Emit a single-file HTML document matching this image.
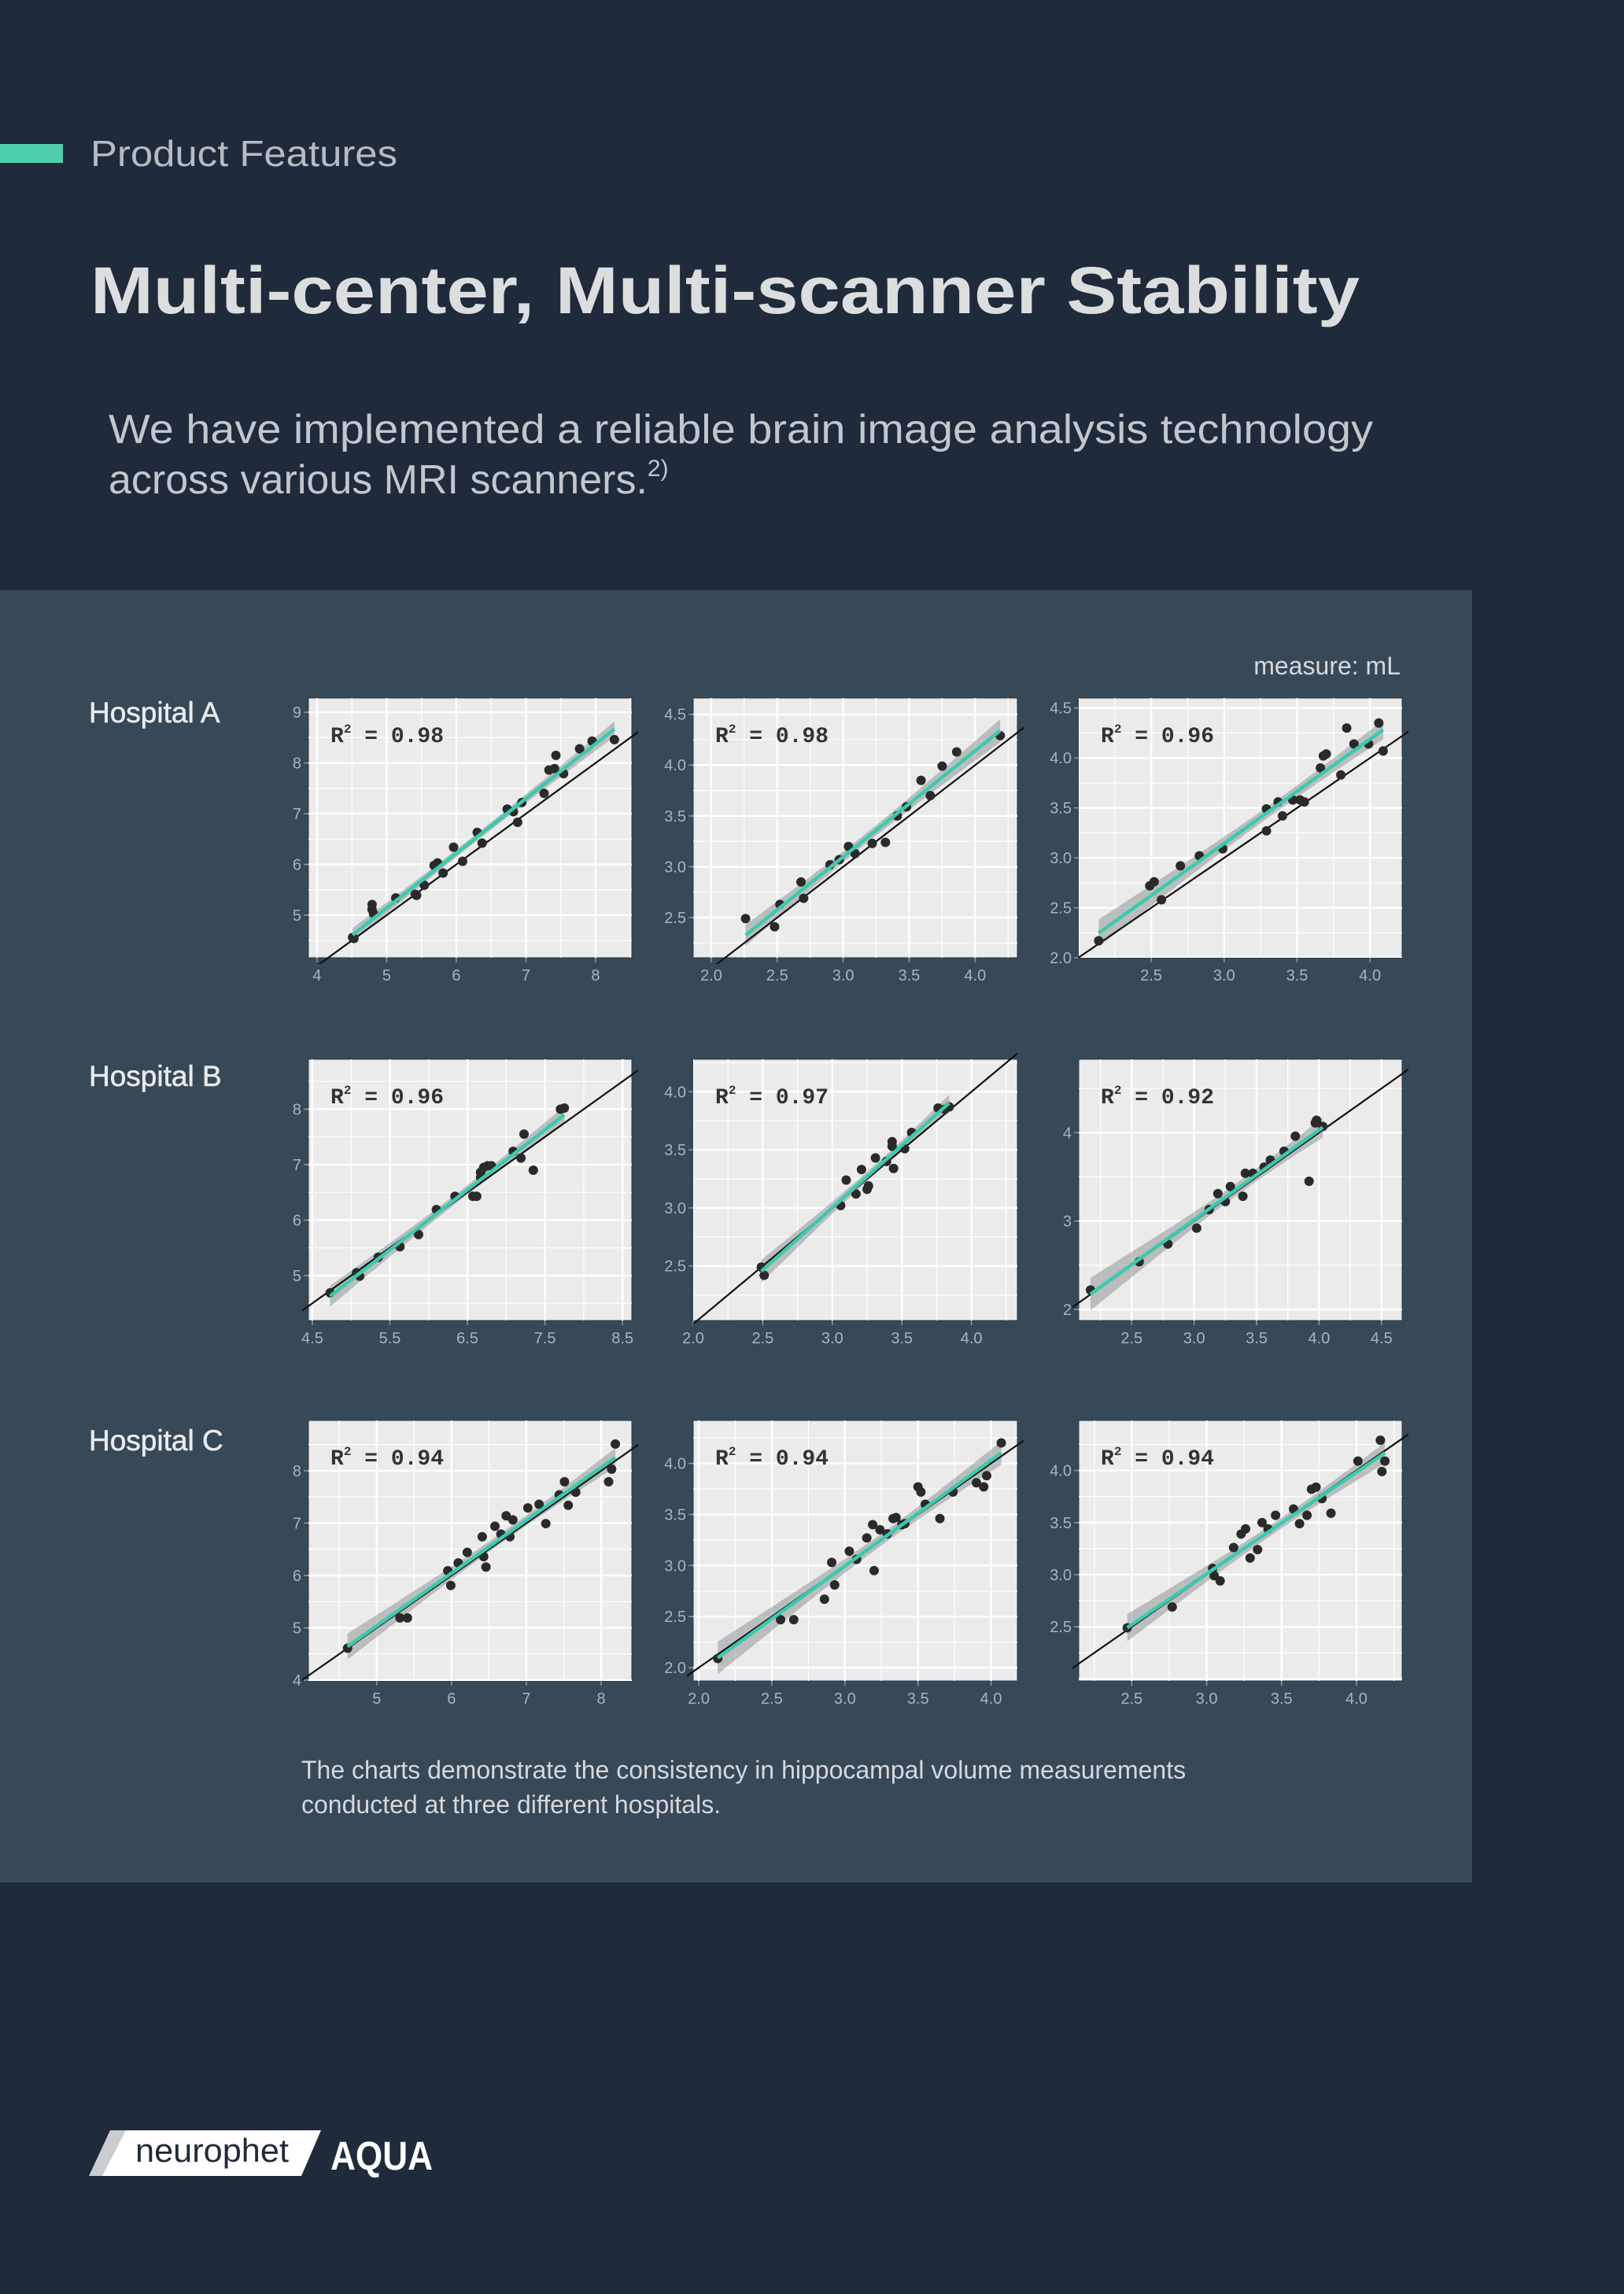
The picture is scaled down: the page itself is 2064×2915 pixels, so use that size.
<!DOCTYPE html>
<html><head><meta charset="utf-8"><style>
html,body{margin:0;padding:0;background:#1f2a3a;}
svg{display:block;}
</style></head><body>
<svg id="page" xmlns="http://www.w3.org/2000/svg" width="2064" height="2915" viewBox="0 0 2064 2915" font-family="'Liberation Sans', sans-serif">
<rect x="0" y="0" width="2064" height="2915" fill="#1f2a3a"/>
<rect x="0" y="183" width="80" height="24" fill="#4fcfad"/>
<text x="115" y="211" font-size="46" fill="#b7bcc2" textLength="390" lengthAdjust="spacingAndGlyphs">Product Features</text>
<text x="115" y="398" font-size="84" font-weight="bold" fill="#dcdddf" textLength="1613" lengthAdjust="spacingAndGlyphs">Multi-center, Multi-scanner Stability</text>
<text x="138" y="563" font-size="52" fill="#c3c7cc" textLength="1607" lengthAdjust="spacingAndGlyphs">We have implemented a reliable brain image analysis technology</text>
<text x="138" y="627" font-size="52" fill="#c3c7cc">across various MRI scanners.<tspan font-size="30" dy="-22">2)</tspan></text>
<rect x="0" y="750" width="1871" height="1642" fill="#374856"/>
<text x="1780" y="857" font-size="32" fill="#d6d9dc" text-anchor="end">measure: mL</text>
<text x="113" y="918" font-size="37" fill="#e8eaec" stroke="#e8eaec" stroke-width="0.6">Hospital A</text>
<text x="113" y="1380" font-size="37" fill="#e8eaec" stroke="#e8eaec" stroke-width="0.6">Hospital B</text>
<text x="113" y="1843" font-size="37" fill="#e8eaec" stroke="#e8eaec" stroke-width="0.6">Hospital C</text>
<g id="charts"></g>
<text x="383" y="2260" font-size="32" fill="#d6d9dc">The charts demonstrate the consistency in hippocampal volume measurements</text>
<text x="383" y="2304" font-size="32" fill="#d6d9dc">conducted at three different hospitals.</text>
<g>
<polygon points="140,2707 175,2707 148,2765 113,2765" fill="#c9ccd0"/>
<polygon points="160,2707 408,2707 383,2765 130,2765" fill="#ffffff"/>
<text x="172" y="2747" font-size="42" fill="#1f2a3a" textLength="195" lengthAdjust="spacingAndGlyphs">neurophet</text>
<text x="420" y="2757" font-size="51" font-weight="bold" fill="#ffffff" textLength="130" lengthAdjust="spacingAndGlyphs">AQUA</text>
</g>
</svg>
<script>
// ---- data ----
const a1X=[4.51,4.53,4.79,4.79,4.81,5.13,5.41,5.43,5.54,5.68,5.73,5.81,5.96,6.09,6.30,6.37,6.73,6.82,6.88,6.94,7.26,7.33,7.41,7.43,7.54,7.77,7.95,8.27];
const a1Y=[4.56,4.54,5.21,5.11,5.03,5.34,5.41,5.39,5.59,5.98,6.03,5.83,6.34,6.06,6.63,6.42,7.09,7.04,6.83,7.22,7.40,7.86,7.89,8.15,7.79,8.28,8.43,8.46];
const a2X=[2.26,2.48,2.52,2.68,2.70,2.90,2.97,3.04,3.09,3.22,3.32,3.41,3.48,3.59,3.66,3.75,3.86,4.19];
const a2Y=[2.49,2.41,2.63,2.85,2.69,3.02,3.07,3.20,3.13,3.23,3.24,3.50,3.59,3.85,3.70,3.99,4.13,4.29];
const a3X=[2.14,2.49,2.52,2.57,2.70,2.83,2.99,3.29,3.29,3.37,3.40,3.47,3.52,3.55,3.66,3.68,3.70,3.80,3.84,3.89,3.99,4.06,4.09];
const a3Y=[2.17,2.72,2.76,2.58,2.92,3.02,3.09,3.49,3.27,3.56,3.42,3.58,3.58,3.56,3.90,4.02,4.04,3.83,4.30,4.14,4.14,4.35,4.07];
const b1X=[4.73,5.11,5.87,6.10,6.34,6.57,6.62,6.67,6.71,6.76,6.81,7.09,7.19,7.23,7.35,7.70,7.75,5.35,5.63,5.07,6.67];
const b1Y=[4.69,4.99,5.74,6.19,6.43,6.43,6.43,6.86,6.95,6.98,6.98,7.24,7.12,7.55,6.90,8.00,8.02,5.33,5.52,5.05,6.77];
const b2X=[2.51,2.49,3.06,3.10,3.17,3.21,3.25,3.31,3.43,3.43,3.44,3.57,3.76,3.81,3.84,3.26,3.39,3.52];
const b2Y=[2.42,2.49,3.02,3.24,3.12,3.33,3.16,3.43,3.57,3.53,3.34,3.65,3.86,3.85,3.87,3.19,3.40,3.51];
const b3X=[2.17,2.56,3.02,3.19,3.25,3.29,3.39,3.41,3.47,3.56,3.61,3.72,3.81,3.92,3.97,3.98,4.03,2.79,3.12];
const b3Y=[2.22,2.54,2.92,3.31,3.22,3.39,3.28,3.54,3.54,3.61,3.69,3.79,3.96,3.45,4.11,4.14,4.07,2.74,3.13];
const c1X=[4.61,5.31,5.41,5.95,5.99,6.21,6.41,6.43,6.46,6.58,6.66,6.73,6.82,7.02,7.17,7.26,7.44,7.51,7.56,7.66,8.10,8.14,8.19,6.78,6.09];
const c1Y=[4.61,5.19,5.19,6.09,5.81,6.44,6.74,6.36,6.16,6.94,6.79,7.14,7.06,7.29,7.36,6.99,7.54,7.79,7.34,7.59,7.79,8.03,8.51,6.74,6.24];
const c2X=[2.13,2.56,2.65,2.91,2.93,3.03,3.08,3.15,3.19,3.20,3.24,3.33,3.35,3.39,3.41,3.50,3.52,3.55,3.65,3.74,3.90,3.95,3.97,4.07,2.86,3.29];
const c2Y=[2.09,2.47,2.47,3.03,2.81,3.14,3.06,3.27,3.40,2.95,3.35,3.46,3.47,3.40,3.41,3.77,3.72,3.60,3.46,3.72,3.81,3.77,3.88,4.20,2.67,3.31];
const c3X=[2.47,2.77,3.05,3.18,3.23,3.26,3.29,3.34,3.37,3.41,3.46,3.58,3.62,3.67,3.70,3.73,3.77,3.83,4.01,4.16,4.17,4.19,3.04,3.09];
const c3Y=[2.49,2.69,2.99,3.26,3.39,3.44,3.16,3.24,3.50,3.44,3.57,3.63,3.49,3.57,3.82,3.84,3.73,3.59,4.09,4.29,3.99,4.09,3.06,2.94];
const r2Labels=["0.98","0.98","0.96","0.96","0.97","0.92","0.94","0.94","0.94"];
const a1XTicks=[4,5,6,7,8], a1YTicks=[5,6,7,8,9];
const a2XTicks=[2.0,2.5,3.0,3.5,4.0], a2YTicks=[2.5,3.0,3.5,4.0,4.5];
const a3XTicks=[2.5,3.0,3.5,4.0], a3YTicks=[2.0,2.5,3.0,3.5,4.0,4.5];
const b1XTicks=[4.5,5.5,6.5,7.5,8.5], b1YTicks=[5,6,7,8];
const b2XTicks=[2.0,2.5,3.0,3.5,4.0], b2YTicks=[2.5,3.0,3.5,4.0];
const b3XTicks=[2.5,3.0,3.5,4.0,4.5], b3YTicks=[2,3,4];
const c1XTicks=[5,6,7,8], c1YTicks=[4,5,6,7,8];
const c2XTicks=[2.0,2.5,3.0,3.5,4.0], c2YTicks=[2.0,2.5,3.0,3.5,4.0];
const c3XTicks=[2.5,3.0,3.5,4.0], c3YTicks=[2.5,3.0,3.5,4.0];
const xDomains=[[3.876,8.52],[1.863,4.32],[2.003,4.22],[4.45,8.62],[2.0,4.33],[2.076,4.665],[4.087,8.41],[1.962,4.18],[2.146,4.305]];
const yDomains=[[4.16,9.28],[2.105,4.66],[2.0,4.60],[4.19,8.9],[2.03,4.28],[1.875,4.83],[3.985,8.96],[1.87,4.42],[1.98,4.48]];

const NS="http://www.w3.org/2000/svg";
const colsX=[[392,803],[881,1293],[1371,1782]];
const rowsY=[[887,1217],[1346,1678],[1805,2136]];
const panels=[
 [a1X,a1Y,a1XTicks,a1YTicks,0],[a2X,a2Y,a2XTicks,a2YTicks,1],[a3X,a3Y,a3XTicks,a3YTicks,1],
 [b1X,b1Y,b1XTicks,b1YTicks,0],[b2X,b2Y,b2XTicks,b2YTicks,1],[b3X,b3Y,b3XTicks,b3YTicks,0],
 [c1X,c1Y,c1XTicks,c1YTicks,0],[c2X,c2Y,c2XTicks,c2YTicks,1],[c3X,c3Y,c3XTicks,c3YTicks,1]];
const xDec=[0,1,1,1,1,1,0,1,1];
const names=["hospital-a","hospital-b","hospital-c"];
function mk(tag,attrs,parent){const e=document.createElementNS(NS,tag);for(const k in attrs)e.setAttribute(k,attrs[k]);parent.appendChild(e);return e;}
const root=document.getElementById('charts');
const defs=mk('defs',{},root);
panels.forEach((p,i)=>{
 const [xs,ys,xt,yt,ydec]=p;
 const r=Math.floor(i/3),c=i%3;
 const L=colsX[c][0],R=colsX[c][1],T=rowsY[r][0],B=rowsY[r][1];
 const xd=xDomains[i],yd=yDomains[i];
 const sx=v=>L+(v-xd[0])/(xd[1]-xd[0])*(R-L);
 const sy=v=>B-(v-yd[0])/(yd[1]-yd[0])*(B-T);
 const g=mk('g',{},root);
 
 
 const cp=mk('clipPath',{id:'cp'+i},defs);
 mk('rect',{x:L,y:T,width:R-L,height:B-T},cp);
 const cpw=mk('clipPath',{id:'cpw'+i},defs);
 mk('rect',{x:L-8,y:T-8,width:R-L+16,height:B-T+16},cpw);
 const bg=mk('rect',{x:L,y:T,width:R-L,height:B-T,fill:'#ebebeb',stroke:'#2b3a47','stroke-width':1},g);
 
 
 const grid=mk('g',{'clip-path':'url(#cp'+i+')'},g);
 
 
 const xs2=xt[1]-xt[0], ys2=yt[1]-yt[0];
 for(let v=xt[0]-xs2*2;v<=xd[1]+xs2;v+=xs2/2){const major=Math.abs(((v-xt[0])/xs2)-Math.round((v-xt[0])/xs2))<1e-6;
  mk('line',{x1:sx(v),x2:sx(v),y1:T,y2:B,stroke:'#ffffff','stroke-width':major?2.4:1.2},grid);}
 for(let v=yt[0]-ys2*2;v<=yd[1]+ys2;v+=ys2/2){const major=Math.abs(((v-yt[0])/ys2)-Math.round((v-yt[0])/ys2))<1e-6;
  mk('line',{y1:sy(v),y2:sy(v),x1:L,x2:R,stroke:'#ffffff','stroke-width':major?2.4:1.2},grid);}
 xt.forEach(v=>{
  mk('line',{x1:sx(v),x2:sx(v),y1:B,y2:B+6,stroke:'#8d99a4','stroke-width':1.5},g);
  const t=mk('text',{x:sx(v),y:B+29,'font-size':20,fill:'#aab4bd','text-anchor':'middle'},g);
  t.textContent=xDec[i]?v.toFixed(1):String(v);
  
  
 });
 yt.forEach(v=>{
  mk('line',{x1:L-6,x2:L,y1:sy(v),y2:sy(v),stroke:'#8d99a4','stroke-width':1.5},g);
  const t=mk('text',{x:L-9,y:sy(v)+7,'font-size':20,fill:'#aab4bd','text-anchor':'end'},g);
  t.textContent=ydec?v.toFixed(1):String(v);
  
  
 });
 const n=xs.length;let mx=0,my=0;xs.forEach((v,k)=>{mx+=v;my+=ys[k];});mx/=n;my/=n;
 let sxx=0,sxy=0;xs.forEach((v,k)=>{sxx+=(v-mx)**2;sxy+=(v-mx)*(ys[k]-my);});
 const b=sxy/sxx,a=my-b*mx;let sse=0;xs.forEach((v,k)=>{sse+=(ys[k]-a-b*v)**2;});
 const se=Math.sqrt(sse/(n-2));
 const x0=Math.min(...xs),x1=Math.max(...xs);
 const up=[],dn=[];
 for(let k=0;k<=40;k++){const v=x0+(x1-x0)*k/40;const w=2.05*se*Math.sqrt(1/n+(v-mx)**2/sxx);
  up.push(sx(v).toFixed(1)+','+sy(a+b*v+w).toFixed(1));dn.unshift(sx(v).toFixed(1)+','+sy(a+b*v-w).toFixed(1));}
 const band=mk('polygon',{points:up.concat(dn).join(' '),fill:'#9a9c9e','fill-opacity':0.6,'clip-path':'url(#cp'+i+')'},g);
 
 
 const lo2=Math.min(xd[0],yd[0]),hi2=Math.max(xd[1],yd[1]);
 const id=mk('line',{x1:sx(lo2),y1:sy(lo2),x2:sx(hi2),y2:sy(hi2),stroke:'#111','stroke-width':2.2,'clip-path':'url(#cpw'+i+')'},g);
 
 
 const pg=mk('g',{'clip-path':'url(#cp'+i+')'},g);
 
 
 xs.forEach((v,k)=>{const d=mk('circle',{cx:sx(v),cy:sy(ys[k]),r:6,fill:'#2a2a2a'},pg);
  
  });
 const fit=mk('line',{x1:sx(x0),y1:sy(a+b*x0),x2:sx(x1),y2:sy(a+b*x1),stroke:'#3cc9af','stroke-width':4.5},g);
 
 
 const lab=mk('text',{x:L+28,y:T+56,'font-size':28,'font-family':"'Liberation Mono', monospace",'font-weight':'bold',fill:'#333'},g);
 lab.textContent='R';
 const sup=mk('tspan',{'font-size':16,dy:-12},lab);sup.textContent='2';
 const rest=mk('tspan',{dy:12},lab);rest.textContent=' = '+r2Labels[i];
 
 
});
</script>
</body></html>
